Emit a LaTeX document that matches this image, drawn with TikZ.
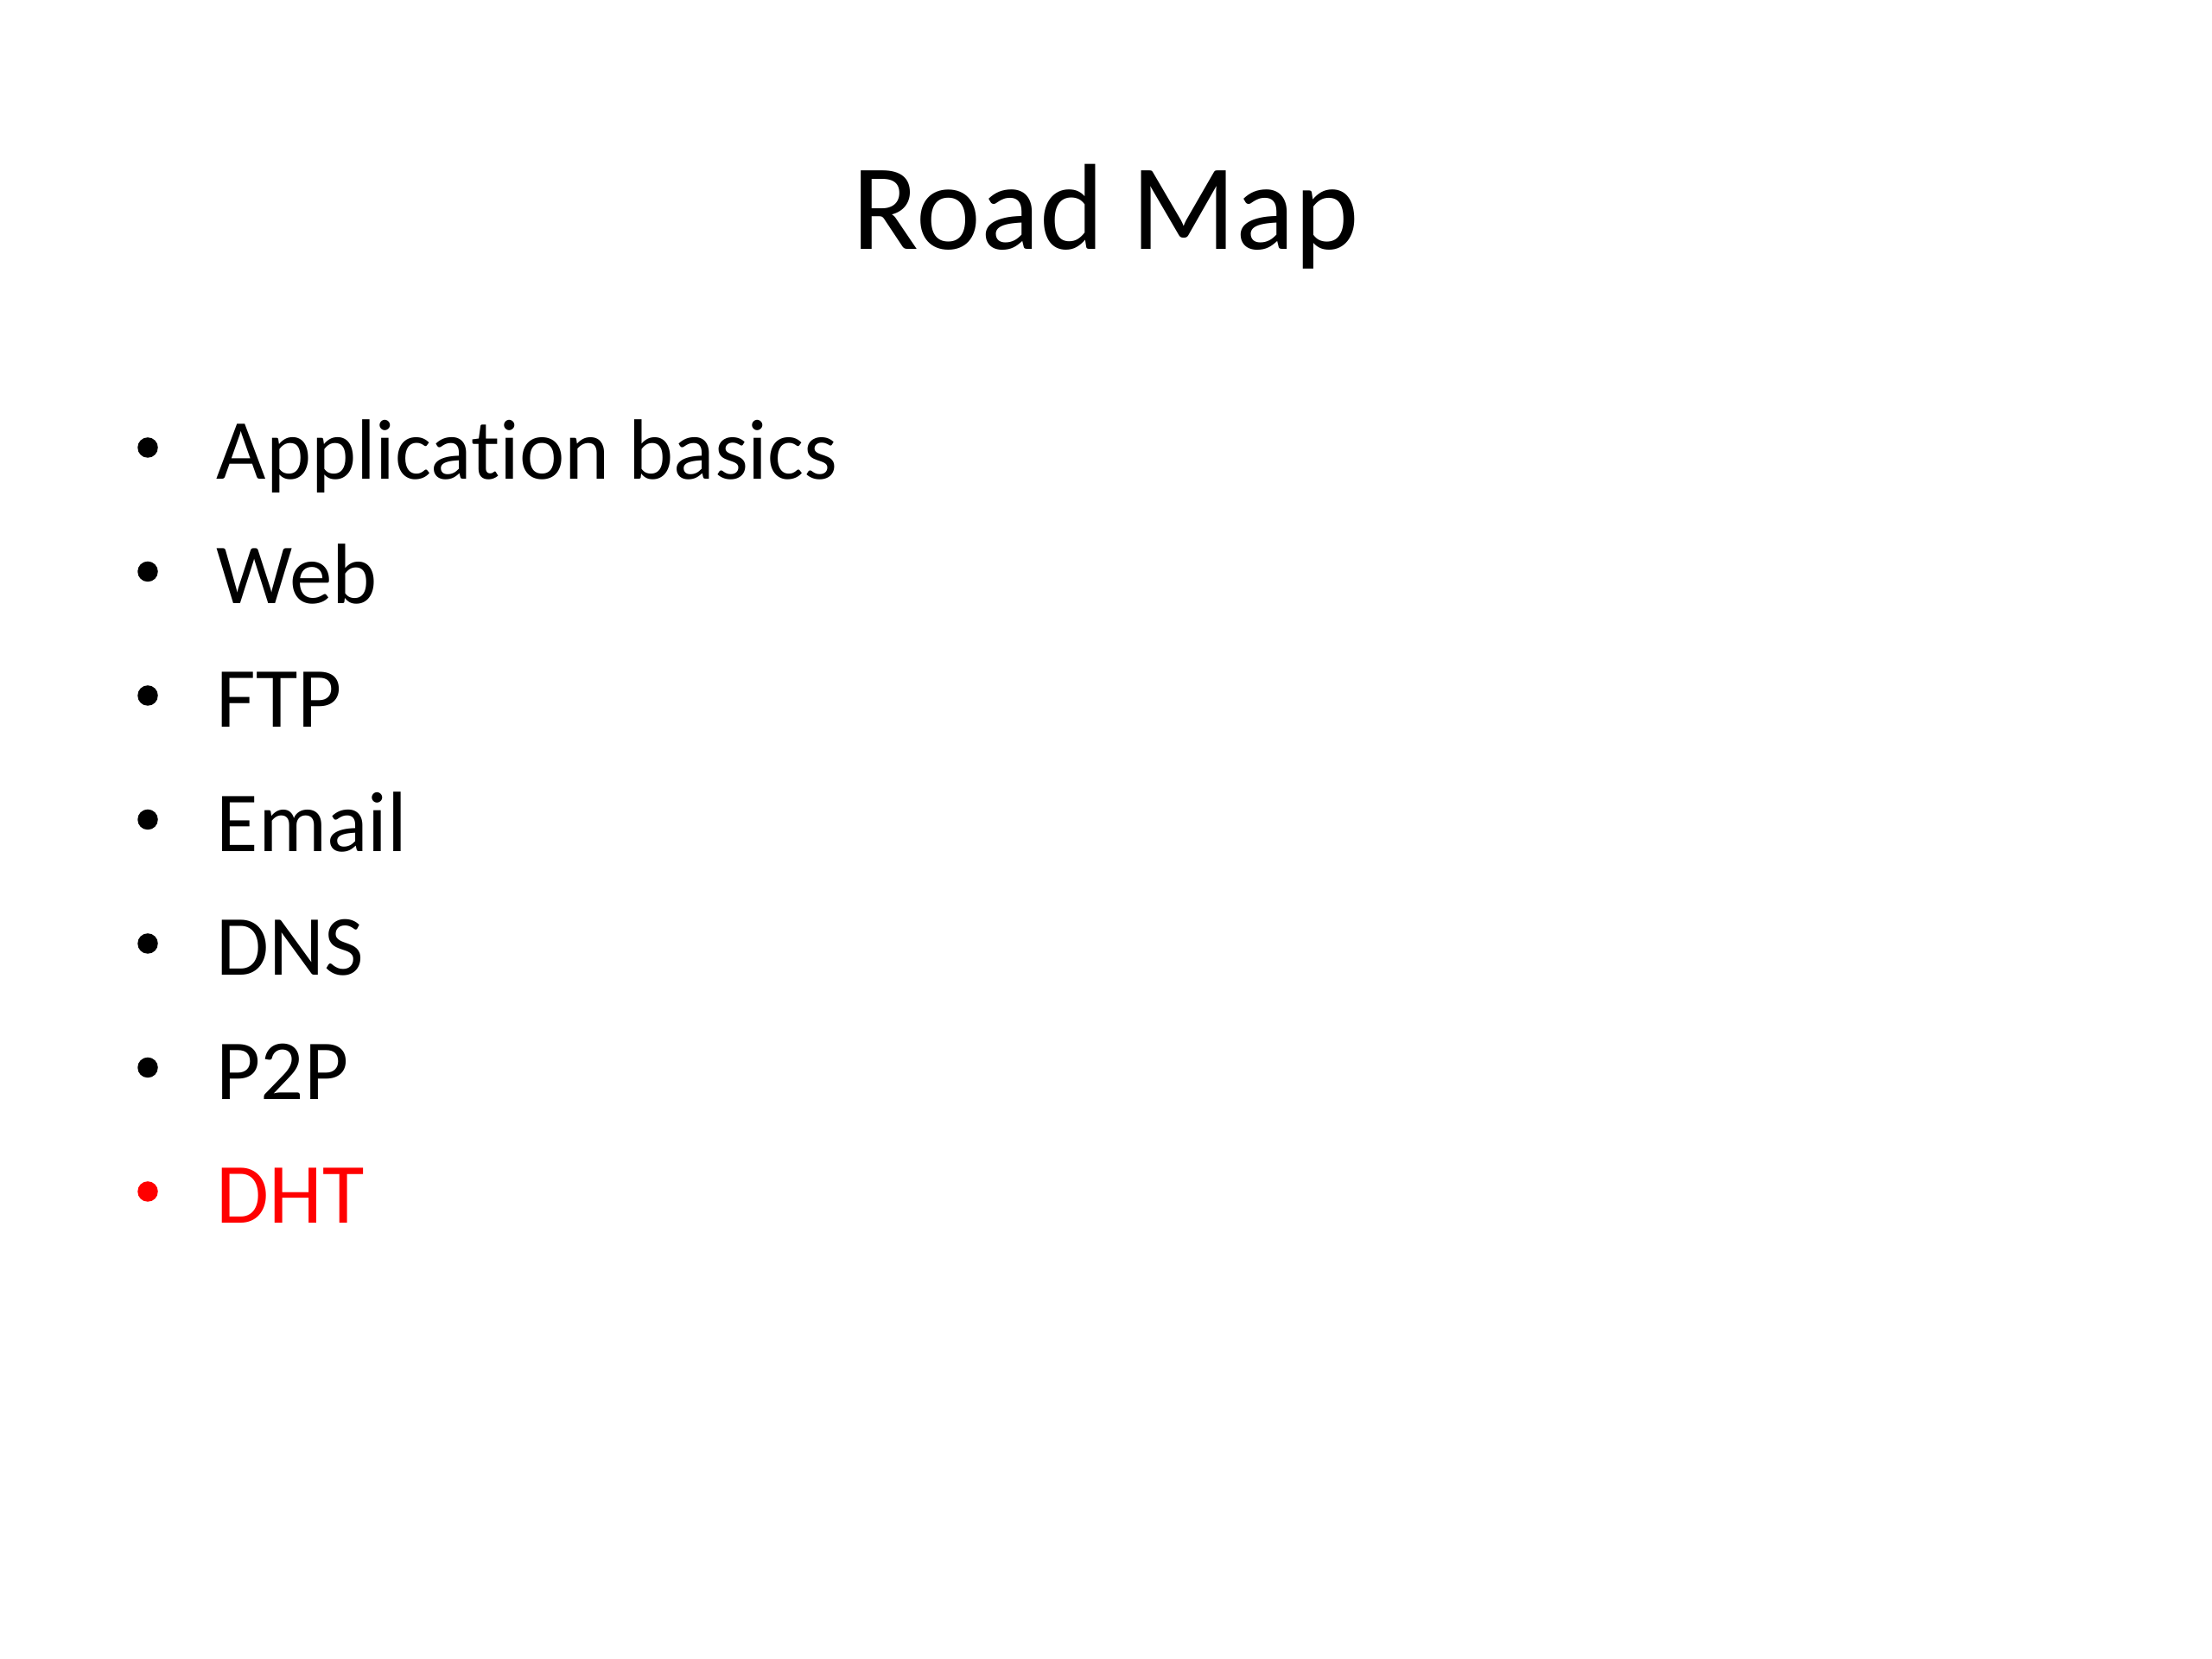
\documentclass[tikz,border=0pt]{standalone}
\usepackage{fontspec}
\setmainfont{Carlito}[Ligatures={NoCommon,NoContextual}]
\definecolor{hlred}{HTML}{FF0000}
\begin{document}
\begin{tikzpicture}[
  titletext/.style={inner sep=0pt, anchor=base, font=\fontsize{40.3pt}{48pt}\selectfont},
  bulletmark/.style={circle, fill=black, draw=none, inner sep=0pt, minimum size=0.235cm},
  itemtext/.style={inner sep=0pt, anchor=base west, font=\fontsize{28.2pt}{34pt}\selectfont}
]
\fill[white] (0,0) rectangle (25.6,19.2);
\useasboundingbox (0,0) rectangle (25.6,19.2);
\node[titletext] (title) at (12.8,16.31) {Road Map};
\node[bulletmark] (b1) at (1.71,14.02) {};
\node[itemtext] (t1) at (2.50,13.65) {Application basics};
\node[bulletmark] (b2) at (1.71,12.585) {};
\node[itemtext] (t2) at (2.50,12.215) {Web};
\node[bulletmark] (b3) at (1.71,11.15) {};
\node[itemtext] (t3) at (2.50,10.78) {FTP};
\node[bulletmark] (b4) at (1.71,9.715) {};
\node[itemtext] (t4) at (2.50,9.345) {Email};
\node[bulletmark] (b5) at (1.71,8.28) {};
\node[itemtext] (t5) at (2.50,7.91) {DNS};
\node[bulletmark] (b6) at (1.71,6.845) {};
\node[itemtext] (t6) at (2.50,6.475) {P2P};
\node[bulletmark, fill=hlred] (b7) at (1.71,5.41) {};
\node[itemtext, text=hlred] (t7) at (2.50,5.04) {DHT};
\end{tikzpicture}
\end{document}
